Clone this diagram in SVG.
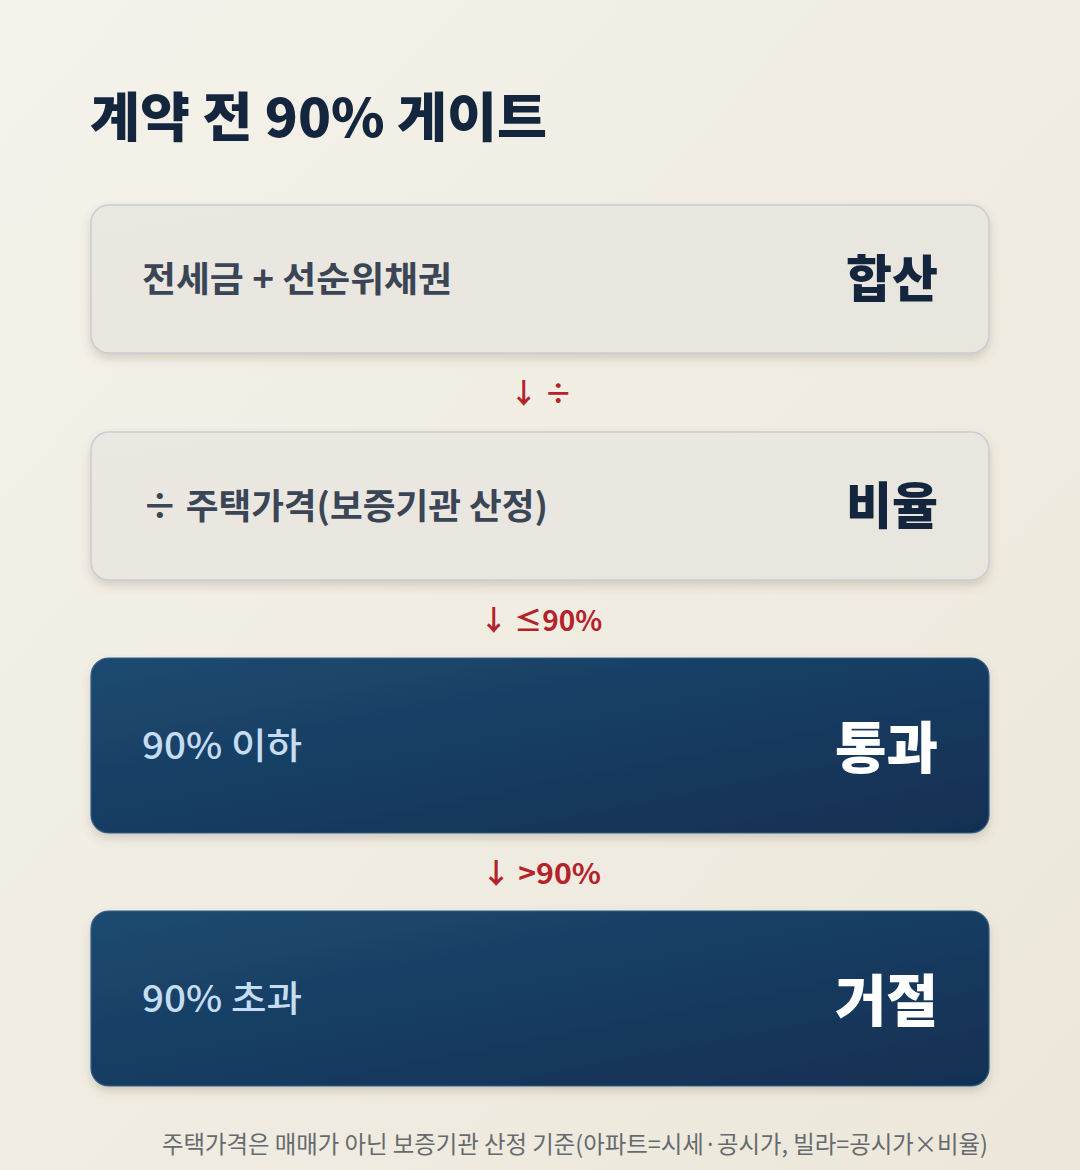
<svg xmlns="http://www.w3.org/2000/svg" width="1080" height="1170" viewBox="0 0 1080 1170">
<defs>
<linearGradient id="bg" x1="0" y1="0" x2="1" y2="1">
<stop offset="0" stop-color="#f4f2ea"/>
<stop offset="1" stop-color="#ece7da"/>
</linearGradient>
<linearGradient id="light" x1="0" y1="0" x2="1" y2="1">
<stop offset="0" stop-color="#eae8e1"/>
<stop offset="1" stop-color="#e7e5dc"/>
</linearGradient>
<linearGradient id="dark" x1="0" y1="0" x2="1" y2="1">
<stop offset="0" stop-color="#1d4a70"/>
<stop offset="1" stop-color="#112f52"/>
</linearGradient>
<filter id="sh" x="-5%" y="-10%" width="110%" height="130%">
<feDropShadow dx="0" dy="5" stdDeviation="5" flood-color="#6b5f40" flood-opacity="0.22"/>
</filter>
<style>
text{font-family:"Noto Sans CJK KR","Noto Sans",sans-serif}
.title{font-size:53px;font-weight:800;fill:#14263d}
.lbox{fill:url(#light);stroke:#c8ccd3;stroke-width:1.5}
.dbox{fill:url(#dark);stroke:#2f5f8c;stroke-width:1.2}
.lt{font-size:35px;font-weight:600;fill:#3a4555}
.dt{font-size:36px;font-weight:500;fill:#c6dcf2}
.rt{font-size:50px;font-weight:800;fill:#14263d;text-anchor:end}
.rw{font-size:56px;font-weight:800;fill:#ffffff;text-anchor:end}
.cl{font-size:28px;font-weight:700;fill:#b5222a;text-anchor:middle}
.note{font-size:24px;font-weight:400;fill:#666a6e;text-anchor:end}
</style>
</defs>
<rect x="0" y="0" width="1080" height="1170" fill="url(#bg)"/>
<text class="title" x="90" y="137" textLength="457" lengthAdjust="spacingAndGlyphs">계약 전 90% 게이트</text>
<g id="node-sum">
<rect class="lbox" x="91" y="205" width="898" height="148" rx="18" filter="url(#sh)"/>
<text class="lt" x="142" y="292" textLength="310" lengthAdjust="spacingAndGlyphs">전세금 + 선순위채권</text>
<text class="rt" x="938" y="297">합산</text>
</g>
<g id="node-ratio">
<rect class="lbox" x="91" y="432" width="898" height="148" rx="18" filter="url(#sh)"/>
<text class="lt" x="142" y="519" textLength="406" lengthAdjust="spacingAndGlyphs">÷ 주택가격(보증기관 산정)</text>
<text class="rt" x="938" y="524">비율</text>
</g>
<g id="node-pass">
<rect class="dbox" x="91" y="658" width="898" height="175" rx="18" filter="url(#sh)"/>
<text class="dt" x="142" y="759" textLength="160" lengthAdjust="spacingAndGlyphs">90% 이하</text>
<text class="rw" x="938" y="768">통과</text>
</g>
<g id="node-reject">
<rect class="dbox" x="91" y="911" width="898" height="175" rx="18" filter="url(#sh)"/>
<text class="dt" x="142" y="1012" textLength="160" lengthAdjust="spacingAndGlyphs">90% 초과</text>
<text class="rw" x="938" y="1021">거절</text>
</g>
<g id="connectors">
<text class="cl" x="541" y="404">↓ ÷</text>
<text class="cl" x="541" y="631">↓ ≤90%</text>
<text class="cl" x="541" y="884" textLength="120" lengthAdjust="spacingAndGlyphs">↓ &gt;90%</text>
</g>
<text class="note" x="988" y="1153" textLength="826" lengthAdjust="spacingAndGlyphs">주택가격은 매매가 아닌 보증기관 산정 기준(아파트=시세·공시가, 빌라=공시가×비율)</text>
</svg>
